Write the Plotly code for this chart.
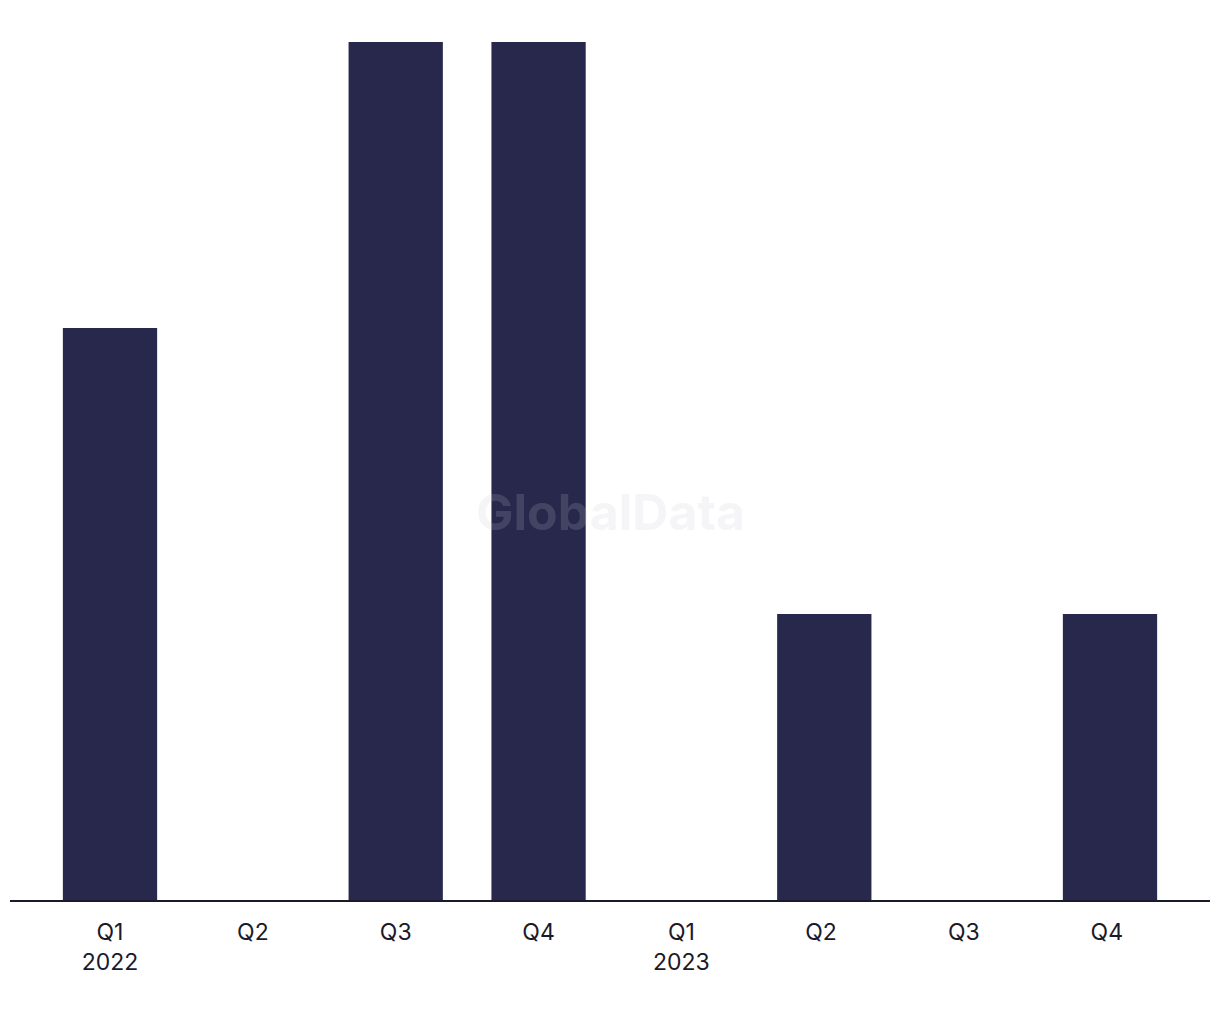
import plotly.graph_objects as go

categories = ["Q1<br>2022", "Q2", "Q3", "Q4", "Q1<br>2023", "Q2 ", "Q3 ", "Q4 "]
values = [2, 0, 3, 3, 0, 1, 0, 1]

fig = go.Figure(go.Bar(x=list(range(len(categories))), y=values, marker_color="#27284b",
                       marker_line_width=0, width=0.66))
fig.update_layout(
    width=1220, height=1020,
    margin=dict(l=2, r=18, t=34, b=128),
    plot_bgcolor="white", paper_bgcolor="white",
    showlegend=False,
    font=dict(family="Inter, Liberation Sans, sans-serif", size=23, color="#1a1a2a"),
    xaxis=dict(tickmode="array", tickvals=list(range(len(categories))), ticktext=categories,
               range=[-0.7, 7.7], showgrid=False, zeroline=False, showline=True,
               linecolor="#1a1a2a", linewidth=2, ticks="", ticklen=0, fixedrange=True,
               ticklabelstandoff=10),
    yaxis=dict(range=[0, 3], visible=False, showgrid=False, zeroline=False),
    annotations=[dict(text="<b>GlobalData</b>", x=0.5, y=0.452, xref="paper", yref="paper",
                      showarrow=False, font=dict(size=50, color="rgba(200,200,210,0.18)",
                                                 family="Inter, Liberation Sans, sans-serif"))],
)
fig.write_html("out.html")
